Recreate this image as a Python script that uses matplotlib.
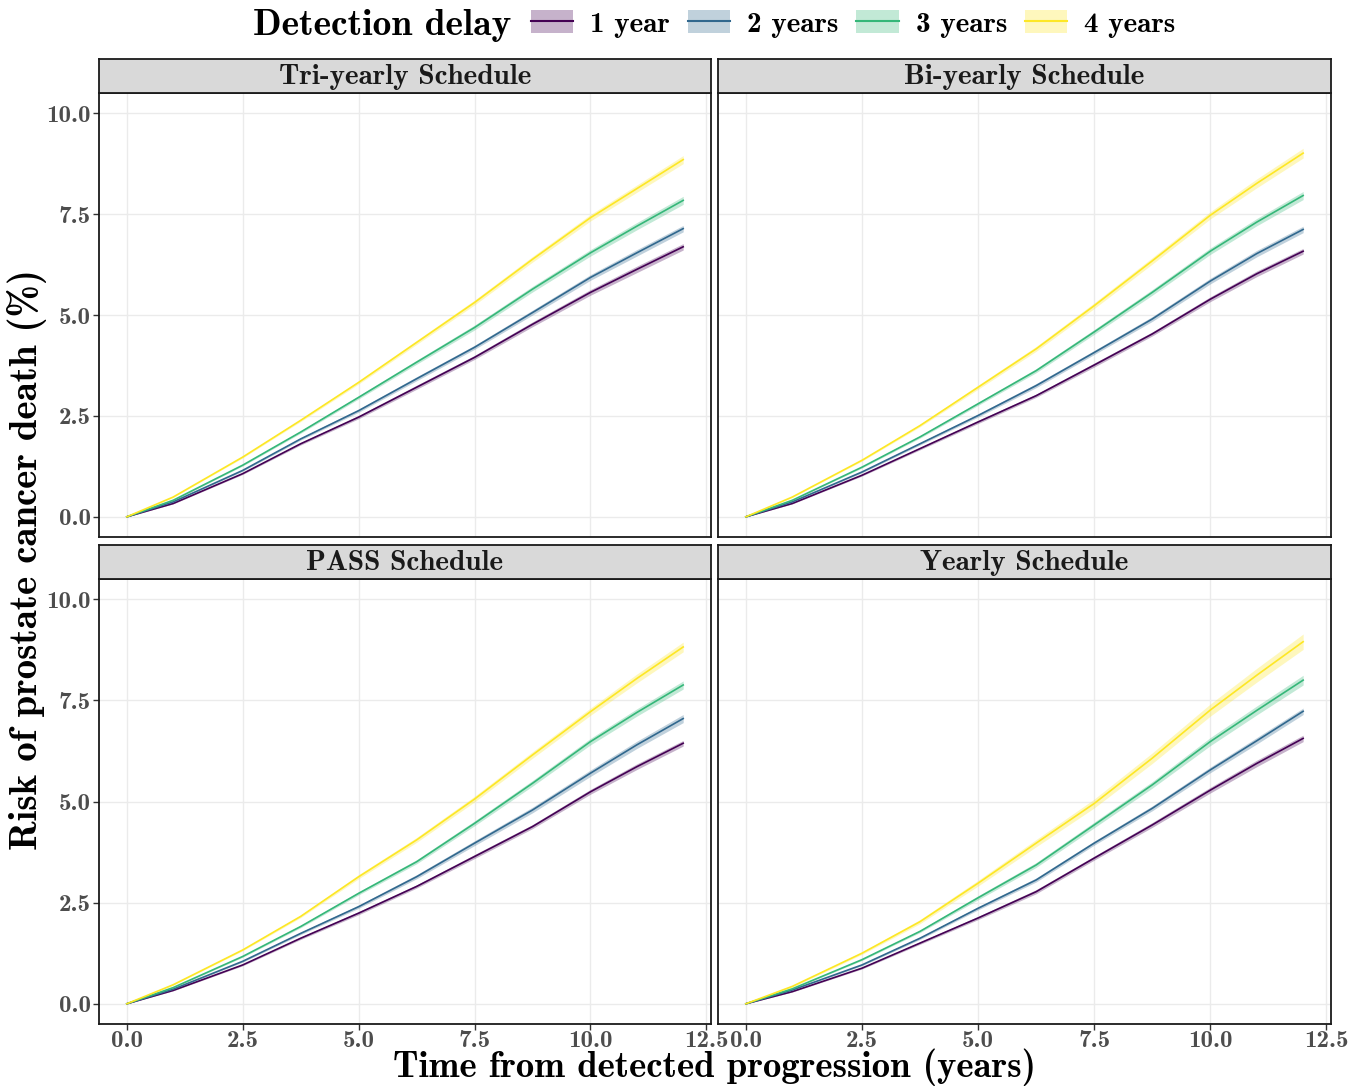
# Risk of prostate cancer death by detection delay, four schedules
import matplotlib.pyplot as plt
from matplotlib.lines import Line2D
from matplotlib.patches import Patch

plt.rcParams['font.family'] = ['cmb10', 'DejaVu Serif']
plt.rcParams['axes.unicode_minus'] = False

# data
years = [0, 1, 2.5, 3.75, 5, 6.25, 7.5, 8.75, 10, 11, 12]
delays = ['1 year', '2 years', '3 years', '4 years']
colors = ['#440154', '#31688E', '#35B779', '#FDE725']
panels = ['Tri-yearly Schedule', 'Bi-yearly Schedule', 'PASS Schedule', 'Yearly Schedule']

tri_risk = [
    [0, 0.33, 1.07, 1.81, 2.47, 3.21, 3.95, 4.77, 5.56, 6.13, 6.69],
    [0, 0.37, 1.15, 1.93, 2.63, 3.42, 4.20, 5.06, 5.93, 6.54, 7.14],
    [0, 0.41, 1.28, 2.10, 2.96, 3.83, 4.69, 5.64, 6.54, 7.20, 7.84],
    [0, 0.49, 1.48, 2.39, 3.33, 4.32, 5.31, 6.38, 7.41, 8.13, 8.85],
]
bi_risk = [
    [0, 0.33, 1.03, 1.69, 2.35, 3.00, 3.76, 4.53, 5.39, 6.02, 6.58],
    [0, 0.37, 1.11, 1.81, 2.51, 3.25, 4.07, 4.90, 5.84, 6.52, 7.12],
    [0, 0.41, 1.23, 1.98, 2.80, 3.62, 4.58, 5.56, 6.58, 7.30, 7.96],
    [0, 0.49, 1.40, 2.26, 3.21, 4.16, 5.23, 6.34, 7.47, 8.26, 9.01],
]
pass_risk = [
    [0, 0.33, 0.96, 1.62, 2.24, 2.90, 3.64, 4.38, 5.24, 5.86, 6.44],
    [0, 0.36, 1.05, 1.74, 2.40, 3.14, 3.97, 4.79, 5.70, 6.40, 7.05],
    [0, 0.40, 1.17, 1.91, 2.73, 3.51, 4.46, 5.45, 6.48, 7.20, 7.88],
    [0, 0.47, 1.33, 2.16, 3.14, 4.05, 5.06, 6.15, 7.22, 8.04, 8.82],
]
yearly_risk = [
    [0, 0.30, 0.88, 1.50, 2.12, 2.77, 3.60, 4.42, 5.28, 5.94, 6.56],
    [0, 0.34, 0.96, 1.62, 2.36, 3.06, 3.97, 4.83, 5.78, 6.50, 7.23],
    [0, 0.37, 1.09, 1.79, 2.62, 3.43, 4.42, 5.41, 6.48, 7.25, 8.00],
    [0, 0.43, 1.25, 2.03, 2.98, 3.97, 4.95, 6.07, 7.26, 8.12, 8.95],
]

# half width of the confidence band
tri_ci = [
    [0, 0.01, 0.02, 0.03, 0.04, 0.05, 0.05, 0.06, 0.07, 0.08, 0.08],
    [0, 0.01, 0.02, 0.03, 0.04, 0.05, 0.05, 0.06, 0.07, 0.08, 0.08],
    [0, 0.01, 0.02, 0.03, 0.04, 0.05, 0.06, 0.07, 0.08, 0.09, 0.10],
    [0, 0.01, 0.02, 0.03, 0.04, 0.05, 0.06, 0.07, 0.08, 0.09, 0.10],
]
bi_ci = [
    [0, 0.01, 0.02, 0.03, 0.04, 0.04, 0.05, 0.05, 0.06, 0.07, 0.07],
    [0, 0.01, 0.02, 0.03, 0.04, 0.05, 0.05, 0.06, 0.07, 0.08, 0.08],
    [0, 0.01, 0.02, 0.03, 0.04, 0.05, 0.06, 0.07, 0.08, 0.09, 0.10],
    [0, 0.01, 0.02, 0.03, 0.05, 0.06, 0.07, 0.08, 0.09, 0.11, 0.12],
]
pass_ci = [
    [0, 0.01, 0.02, 0.03, 0.04, 0.04, 0.05, 0.05, 0.06, 0.07, 0.07],
    [0, 0.01, 0.02, 0.03, 0.04, 0.05, 0.06, 0.07, 0.08, 0.09, 0.10],
    [0, 0.01, 0.02, 0.03, 0.04, 0.05, 0.06, 0.07, 0.08, 0.09, 0.10],
    [0, 0.01, 0.02, 0.03, 0.05, 0.06, 0.07, 0.08, 0.09, 0.11, 0.12],
]
yearly_ci = [
    [0, 0.01, 0.02, 0.03, 0.04, 0.05, 0.05, 0.06, 0.07, 0.08, 0.08],
    [0, 0.01, 0.02, 0.03, 0.04, 0.05, 0.05, 0.06, 0.07, 0.08, 0.08],
    [0, 0.01, 0.02, 0.03, 0.05, 0.06, 0.07, 0.08, 0.10, 0.11, 0.12],
    [0, 0.02, 0.03, 0.05, 0.07, 0.09, 0.11, 0.13, 0.15, 0.17, 0.19],
]

risks = [tri_risk, bi_risk, pass_risk, yearly_risk]
cis = [tri_ci, bi_ci, pass_ci, yearly_ci]

xticks = [0, 2.5, 5, 7.5, 10, 12.5]
xtick_labels = ['0.0', '2.5', '5.0', '7.5', '10.0', '12.5']
yticks = [0, 2.5, 5, 7.5, 10]
ytick_labels = ['0.0', '2.5', '5.0', '7.5', '10.0']

W, H = 1349, 1086
fig = plt.figure(figsize=(W / 100, H / 100), dpi=100)

# pixel boxes (left, top, right, bottom) for the panels
boxes = [(99, 93, 711, 537), (718, 93, 1331, 537),
         (99, 579, 711, 1024), (718, 579, 1331, 1024)]
strip_h = 34
edge = '#1a1a1a'
tick_font = dict(size=18, color='#4D4D4D')

for i, (l, t, r, b) in enumerate(boxes):
    ax = fig.add_axes([l / W, 1 - b / H, (r - l) / W, (b - t) / H])
    for j in range(4):
        lo = [v - c for v, c in zip(risks[i][j], cis[i][j])]
        hi = [v + c for v, c in zip(risks[i][j], cis[i][j])]
        ax.fill_between(years, lo, hi, color=colors[j], alpha=0.3, lw=0)
        ax.plot(years, risks[i][j], color=colors[j], lw=1.2)
    ax.set_xlim(-0.6, 12.6)
    ax.set_ylim(-0.5, 10.5)
    ax.set_xticks(xticks)
    ax.set_yticks(yticks)
    ax.grid(True, color='#EBEBEB', lw=1.0)
    ax.set_axisbelow(True)
    for s in ax.spines.values():
        s.set_color(edge)
        s.set_linewidth(1.3)
    ax.tick_params(length=4, width=1, color='#333333', pad=2)
    ax.tick_params(axis='x', pad=0.5)
    if i >= 2:
        ax.set_xticklabels(xtick_labels, fontdict=tick_font)
    else:
        ax.tick_params(axis='x', length=0, labelbottom=False)
    if i % 2 == 0:
        ax.set_yticklabels(ytick_labels, fontdict=tick_font)
    else:
        ax.tick_params(axis='y', length=0, labelleft=False)

    # facet strip
    sax = fig.add_axes([l / W, 1 - t / H, (r - l) / W, strip_h / H])
    sax.set_facecolor('#D9D9D9')
    sax.set_xticks([])
    sax.set_yticks([])
    for s in sax.spines.values():
        s.set_color(edge)
        s.set_linewidth(1.3)
    sax.text(0.5, 0.47, panels[i], ha='center', va='center', fontsize=21,
             color='#1a1a1a', transform=sax.transAxes)

fig.text(715 / W, 1 - 1067 / H, 'Time from detected progression (years)',
         ha='center', va='center', fontsize=26.5)
fig.text(27 / W, 1 - 560 / H, 'Risk of prostate cancer death (%)',
         ha='center', va='center', rotation=90, fontsize=28)

# legend, title on the left
fig.text(382 / W, 1 - 25 / H, 'Detection delay', ha='center', va='center', fontsize=27)
handles = [(Patch(facecolor=c, alpha=0.3, edgecolor='none'), Line2D([], [], color=c, lw=1.5))
           for c in colors]
fig.legend(handles, delays, loc='center', bbox_to_anchor=(853 / W, 1 - 24 / H), ncol=4,
           frameon=False, fontsize=21, handlelength=1.45, handleheight=0.85,
           handletextpad=0.58, columnspacing=0.62, borderaxespad=0)

fig.savefig('out.png', dpi=100)
